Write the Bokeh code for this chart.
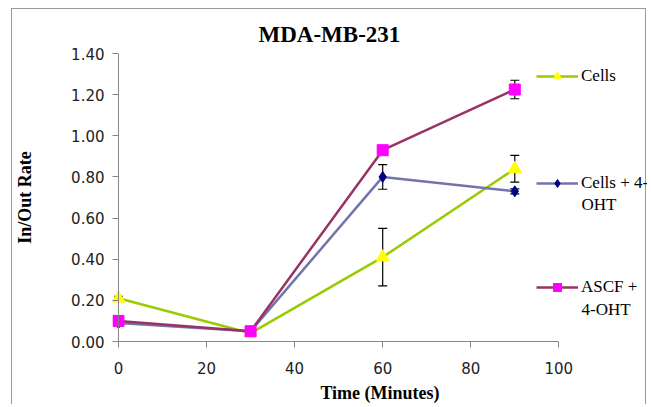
from bokeh.plotting import figure
from bokeh.models import (ColumnDataSource, Legend, LegendItem, Label, Whisker, TeeHead,
                          FixedTicker, NumeralTickFormatter, Range1d, Span)
from bokeh.embed import file_html
from bokeh.resources import INLINE

time_min = [0, 30, 60, 90]
series_names = ["Cells", "Cells + 4-OHT", "ASCF + 4-OHT"]
cells = [0.21, 0.04, 0.41, 0.84]
cells_err = [0.01, 0.005, 0.14, 0.065]
cells_oht = [0.09, 0.05, 0.80, 0.73]
cells_oht_err = [0.01, 0.005, 0.06, 0.012]
ascf_oht = [0.10, 0.05, 0.93, 1.225]
ascf_oht_err = [0.01, 0.005, 0.01, 0.045]
x_ticks = [0, 20, 40, 60, 80, 100]
y_ticks = [0.0, 0.2, 0.4, 0.6, 0.8, 1.0, 1.2, 1.4]

AX = "#868686"
PX_PER_MIN = 4.42
p = figure(width=635, height=396, output_backend="svg", toolbar_location=None,
           x_range=Range1d(-6 / PX_PER_MIN, 100 + 89 / PX_PER_MIN), y_range=Range1d(0, 1.4),
           min_border_left=98, min_border_right=0, min_border_top=44, min_border_bottom=64,
           title="MDA-MB-231")
p.stylesheets = [":host { margin-left: 11px; margin-top: 8px; border-left: 1px solid #9a9a9a;"
                 " border-top: 1px solid #9a9a9a; border-right: 1px solid #9a9a9a; }"]
p.outline_line_color = None
p.grid.visible = False
p.background_fill_color = "white"
p.border_fill_color = "white"

p.title.text_font = "Liberation Serif"
p.title.text_font_size = "23px"
p.title.text_font_style = "bold"
p.title.align = "left"
p.title.offset = 146
p.title.standoff = 13
p.title.text_color = "black"

for ax in (p.xaxis[0], p.yaxis[0]):
    ax.axis_line_color = AX
    ax.major_tick_line_color = AX
    ax.minor_tick_line_color = None
    ax.major_tick_out = 6
    ax.major_tick_in = 0
    ax.major_label_text_font = "DejaVu Sans"
    ax.major_label_text_font_size = "15px"
    ax.major_label_text_color = "#222222"
    ax.axis_label_text_font = "Liberation Serif"
    ax.axis_label_text_font_size = "18px"
    ax.axis_label_text_font_style = "bold"
    ax.axis_label_text_color = "black"

xa, ya = p.xaxis[0], p.yaxis[0]
xa.ticker = FixedTicker(ticks=x_ticks)
xa.bounds = (x_ticks[0], x_ticks[-1])
ya.ticker = FixedTicker(ticks=y_ticks)
ya.formatter = NumeralTickFormatter(format="0.00")
ya.axis_line_color = None
ya.major_tick_out = 0
ya.major_tick_in = 6
xa.axis_label = "Time (Minutes)"
ya.axis_label = "In/Out Rate"
xa.major_label_standoff = 14
ya.major_label_standoff = 8
xa.axis_label_standoff = 6
ya.axis_label_standoff = 33
p.add_layout(Span(location=0, dimension="height", line_color=AX, line_width=1))

specs = [
    (cells, cells_err, "#99CC00", "triangle", "#FFFF00", 13),
    (cells_oht, cells_oht_err, "#7474AC", "diamond", "#000080", 11),
    (ascf_oht, ascf_oht_err, "#993366", "square", "#FF00FF", 11),
]

items = []
for (vals, errs, lc, mk, mc, ms), name in zip(specs, series_names):
    src = ColumnDataSource(dict(x=time_min, y=vals,
                                lo=[v - e for v, e in zip(vals, errs)],
                                hi=[v + e for v, e in zip(vals, errs)]))
    w = Whisker(base="x", lower="lo", upper="hi", source=src, line_color="black", line_width=1.2,
                upper_head=TeeHead(size=9, line_color="black", line_width=1.2),
                lower_head=TeeHead(size=9, line_color="black", line_width=1.2))
    p.add_layout(w)
    lr = p.line("x", "y", source=src, line_color=lc, line_width=2.5)
    sr = p.scatter("x", "y", source=src, marker=mk, size=ms, fill_color=mc, line_color=mc)
    items.append([lr, sr])

first_lines = ["Cells", "Cells + 4-", "ASCF +"]
second_lines = ["", "OHT", "4-OHT"]
leg_vy = [255, 148, 44]
leg_second_y = [0, 137, 32]
for rs, l1, l2, vy, y2 in zip(items, first_lines, second_lines, leg_vy, leg_second_y):
    lg = Legend(items=[LegendItem(label=l1, renderers=rs)], location=(424, vy),
                padding=0, margin=0, spacing=0, glyph_width=42, glyph_height=20,
                label_height=20, label_standoff=3,
                label_text_font="Liberation Serif", label_text_font_size="17px",
                label_text_color="black",
                border_line_alpha=0, background_fill_alpha=0)
    p.add_layout(lg)
    if l2:
        p.add_layout(Label(x=469, y=y2, x_units="screen", y_units="screen", text=l2,
                           text_font="Liberation Serif", text_font_size="17px",
                           text_baseline="middle", text_color="black"))

open("out.html", "w").write(file_html(p, INLINE))
